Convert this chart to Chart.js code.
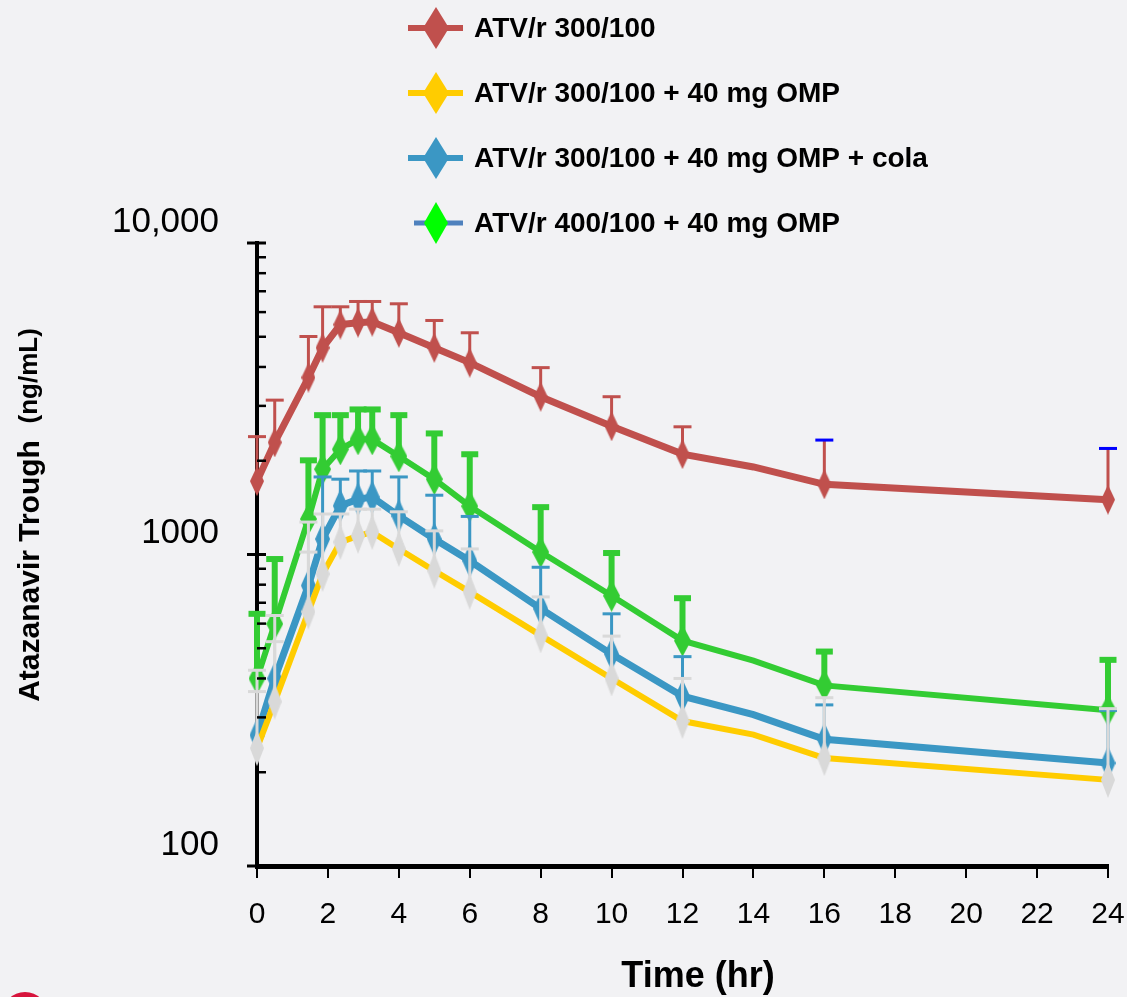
<!DOCTYPE html>
<html>
<head>
<meta charset="utf-8">
<script src="https://cdn.jsdelivr.net/npm/chart.js@4.4.1/dist/chart.umd.min.js"></script>
<style>
  html, body { margin: 0; padding: 0; background: #f2f2f4; overflow: hidden; }
  #wrap { position: relative; width: 1127px; height: 997px; }
  #logo { position: absolute; left: 2px; top: 992px; width: 46px; height: 46px; border-radius: 50%; background: #d7143c; }
</style>
</head>
<body>
<div id="wrap">
  <canvas id="pkChart"></canvas>
  <div id="logo"></div>
</div>
<script>
// --- data ---
const times = [0, 0.5, 1.45, 1.85, 2.35, 2.85, 3.25, 4, 5, 6, 8, 10, 12, 14, 16, 24];

const seriesLabels = [
  "ATV/r 300/100",
  "ATV/r 300/100 + 40 mg OMP",
  "ATV/r 300/100 + 40 mg OMP + cola",
  "ATV/r 400/100 + 40 mg OMP",
];

const atv300 = [1720, 2290, 3700, 4610, 5470, 5550, 5590, 5150, 4610, 4130, 3210, 2580, 2100, 1910, 1680, 1500];
const atv300Upper = [2390, 3130, 5010, 6240, 6240, 6490, 6490, 6380, 5640, 5150, 3980, 3210, 2570, null, 2330, 2190];

const atv300Omp = [239, 337, 655, 866, 1096, 1148, 1180, 1042, 887, 759, 550, 400, 292, 264, 222, 189];
const atv300OmpUpper = [363, 525, 1018, 1349, 1349, 1398, 1398, 1371, 1191, 1042, 731, 547, 400, null, 347, 320];

const atv300OmpCola = [263, 400, 795, 1121, 1433, 1506, 1528, 1331, 1121, 955, 670, 479, 351, 306, 255, 214];
const atv300OmpColaUpper = [425, 637, 1271, 1774, 1745, 1854, 1854, 1774, 1550, 1325, 910, 645, 470, null, 329, 316];

const atv400Omp = [400, 599, 1300, 1878, 2176, 2342, 2342, 2066, 1745, 1429, 1018, 737, 529, 456, 380, 316];
const atv400OmpUpper = [645, 967, 2006, 2801, 2801, 2922, 2922, 2801, 2447, 2098, 1419, 1011, 724, null, 488, 459];

const xTicks = [0, 2, 4, 6, 8, 10, 12, 14, 16, 18, 20, 22, 24];
const yTicks = [100, 200, 300, 400, 500, 600, 700, 800, 900,
  1000, 2000, 3000, 4000, 5000, 6000, 7000, 8000, 9000, 10000];
const yTickLabels = { 100: "100", 1000: "1000", 10000: "10,000" };

// --- helpers ---
const FONT = "'Liberation Sans', Arial, sans-serif";

const diamond = (w, h, fill) => {
  const c = document.createElement("canvas");
  c.width = w;
  c.height = h;
  const g = c.getContext("2d");
  g.fillStyle = fill;
  g.beginPath();
  g.moveTo(w / 2, 0);
  g.lineTo(w, h / 2);
  g.lineTo(w / 2, h);
  g.lineTo(0, h / 2);
  g.closePath();
  g.fill();
  return c;
};

const toPoints = (vals) => times.map((t, i) => ({ x: t, y: vals[i] }));
const hideAt14 = (ctx) => (times[ctx.dataIndex] === 14 ? 0 : 6);

const RED = "#c0504d";
const YELLOW = "#ffcc00";
const BLUE = "#3b97c4";
const GREEN = "#33cc33";
const GREY = "#d9d9d9";

// upper error bars, drawn just under each dataset
const errorBars = {
  id: "errorBars",
  beforeDatasetDraw(chart, args) {
    const ds = chart.data.datasets[args.index];
    const eb = ds.errorBar;
    if (!eb) return;
    const yScale = chart.scales.y;
    const ctx = chart.ctx;
    ctx.save();
    args.meta.data.forEach((pt, i) => {
      const up = eb.upper[i];
      if (up == null) return;
      const yUp = yScale.getPixelForValue(up);
      const col = eb.color(i);
      ctx.strokeStyle = col;
      ctx.lineWidth = eb.stem;
      ctx.beginPath();
      ctx.moveTo(pt.x, pt.y);
      ctx.lineTo(pt.x, yUp);
      ctx.stroke();
      ctx.fillStyle = eb.capColor ? eb.capColor(i) : col;
      ctx.fillRect(pt.x - eb.capWidth / 2, yUp - eb.cap / 2, eb.capWidth, eb.cap);
    });
    ctx.restore();
  },
};

// inside minor ticks on the log axis
const yAxisTicks = {
  id: "yAxisTicks",
  afterDraw(chart) {
    const y = chart.scales.y;
    const ctx = chart.ctx;
    const left = chart.chartArea.left;
    ctx.save();
    ctx.strokeStyle = "#000";
    y.ticks.forEach((t) => {
      const py = y.getPixelForValue(t.value);
      const major = yTickLabels[t.value] !== undefined;
      ctx.lineWidth = major ? 3 : 2.5;
      ctx.beginPath();
      ctx.moveTo(major ? left - 10 : left, py);
      ctx.lineTo(left + 9, py);
      ctx.stroke();
    });
    ctx.restore();
  },
};

// stacked legend at the top + axis titles
const legendMarkers = [
  { line: RED, lineWidth: 6, x0: 408, mark: diamond(26, 42, RED) },
  { line: YELLOW, lineWidth: 6, x0: 408, mark: diamond(26, 42, YELLOW) },
  { line: BLUE, lineWidth: 6, x0: 408, mark: diamond(26, 42, BLUE) },
  { line: "#4f81bd", lineWidth: 5, x0: 414, mark: diamond(24, 42, "#00ff00") },
];

const annotations = {
  id: "annotations",
  afterDraw(chart) {
    const ctx = chart.ctx;
    ctx.save();
    chart.data.datasets.forEach((ds, i) => {
      const m = legendMarkers[i];
      const cy = 28 + i * 65;
      ctx.strokeStyle = m.line;
      ctx.lineWidth = m.lineWidth;
      ctx.beginPath();
      ctx.moveTo(m.x0, cy);
      ctx.lineTo(463, cy);
      ctx.stroke();
      ctx.drawImage(m.mark, 436 - m.mark.width / 2, cy - m.mark.height / 2);
      ctx.fillStyle = "#000";
      ctx.font = "bold 28px " + FONT;
      ctx.textBaseline = "middle";
      ctx.textAlign = "left";
      ctx.fillText(ds.label, 474, cy + 1);
    });

    // x title
    ctx.font = "bold 36px " + FONT;
    ctx.textAlign = "center";
    ctx.fillText("Time (hr)", 698, 977);

    // y title, two sizes
    const main = "Atazanavir Trough  ";
    const unit = "(ng/mL)";
    ctx.font = "bold 30px " + FONT;
    const w1 = ctx.measureText(main).width;
    ctx.font = "bold 26px " + FONT;
    const w2 = ctx.measureText(unit).width;
    ctx.translate(31, 515);
    ctx.rotate(-Math.PI / 2);
    ctx.textAlign = "left";
    ctx.font = "bold 30px " + FONT;
    ctx.fillText(main, -(w1 + w2) / 2, 0);
    ctx.font = "bold 26px " + FONT;
    ctx.fillText(unit, -(w1 + w2) / 2 + w1, -1);
    ctx.restore();
  },
};

new Chart(document.getElementById("pkChart"), {
  type: "line",
  data: {
    datasets: [
      {
        label: seriesLabels[0],
        data: toPoints(atv300),
        borderColor: RED,
        borderWidth: 7,
        pointStyle: diamond(14, 30, RED),
        pointRadius: hideAt14,
        clip: false,
        errorBar: {
          upper: atv300Upper, stem: 3, cap: 3, capWidth: 18,
          color: () => RED,
          capColor: (i) => (times[i] >= 16 ? "#0000ff" : RED),
        },
      },
      {
        label: seriesLabels[1],
        data: toPoints(atv300Omp),
        borderColor: YELLOW,
        borderWidth: 6,
        pointStyle: diamond(14, 36, GREY),
        pointRadius: hideAt14,
        clip: false,
        errorBar: { upper: atv300OmpUpper, stem: 3, cap: 3, capWidth: 18, color: () => GREY },
      },
      {
        label: seriesLabels[2],
        data: toPoints(atv300OmpCola),
        borderColor: BLUE,
        borderWidth: 7,
        pointStyle: diamond(15, 34, BLUE),
        pointRadius: hideAt14,
        clip: false,
        errorBar: {
          upper: atv300OmpColaUpper, stem: 3, cap: 3, capWidth: 18,
          color: (i) => (i < 3 ? GREY : BLUE),
        },
      },
      {
        label: seriesLabels[3],
        data: toPoints(atv400Omp),
        borderColor: GREEN,
        borderWidth: 6,
        pointStyle: diamond(17, 32, GREEN),
        pointRadius: hideAt14,
        clip: false,
        errorBar: { upper: atv400OmpUpper, stem: 6, cap: 6, capWidth: 17, color: () => GREEN },
      },
    ],
  },
  options: {
    responsive: true,
    maintainAspectRatio: false,
    animation: false,
    layout: { padding: { top: 243, right: 19, left: 0, bottom: 0 } },
    elements: { line: { tension: 0 } },
    plugins: { legend: { display: false }, tooltip: { enabled: false } },
    scales: {
      x: {
        type: "linear",
        min: 0,
        max: 24,
        afterFit: (scale) => {
          scale.height = 131;
          scale.paddingLeft = 0;
          scale.paddingRight = 0;
        },
        afterBuildTicks: (scale) => { scale.ticks = xTicks.map((v) => ({ value: v })); },
        border: { color: "#000", width: 5 },
        grid: { drawOnChartArea: false, drawTicks: true, tickLength: 12, color: "#000", lineWidth: 2 },
        ticks: { color: "#000", padding: 19, font: { family: FONT, size: 30 }, maxRotation: 0, autoSkip: false },
      },
      y: {
        type: "logarithmic",
        min: 100,
        max: 10000,
        afterFit: (scale) => {
          scale.width = 257;
          scale.paddingTop = 0;
          scale.paddingBottom = 0;
        },
        afterBuildTicks: (scale) => { scale.ticks = yTicks.map((v) => ({ value: v })); },
        border: { color: "#000", width: 4 },
        grid: { drawOnChartArea: false, drawTicks: false },
        ticks: {
          color: "#000",
          padding: 38,
          labelOffset: -21,
          autoSkip: false,
          font: { family: FONT, size: 35 },
          callback: (v) => yTickLabels[v] || "",
        },
      },
    },
  },
  plugins: [errorBars, yAxisTicks, annotations],
});
</script>
</body>
</html>
